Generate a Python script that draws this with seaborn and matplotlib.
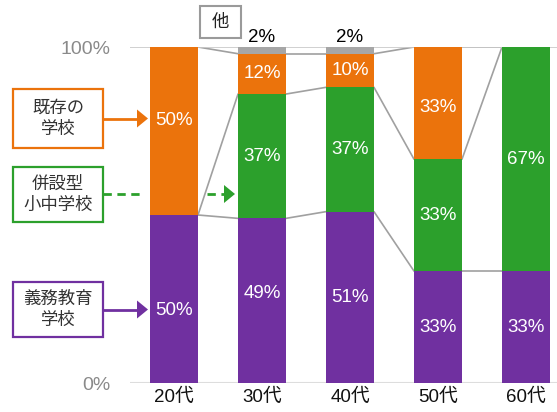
import matplotlib
matplotlib.use("Agg")
import matplotlib.pyplot as plt
import seaborn as sns
import numpy as np
import pandas as pd
from matplotlib.patches import Rectangle, Polygon

sns.set_theme(style="white")
plt.rcParams['font.family'] = ['Liberation Sans', 'Noto Sans CJK JP', 'DejaVu Sans']

# ---- data ----
ages = ["20代", "30代", "40代", "50代", "60代"]
gimu = [50, 49, 51, 33.3, 33.3]        # 義務教育学校
heisetsu = [0, 37, 37, 33.3, 66.7]     # 併設型小中学校
kizon = [50, 12, 10, 33.4, 0]          # 既存の学校
other = [0, 2, 2, 0, 0]                # 他
ytick_labels = ["0%", "100%"]

C_PURPLE = "#7030A0"
C_GREEN = "#2CA02C"
C_ORANGE = "#EB730C"
C_GRAY = "#A6A6A6"

series = [gimu, heisetsu, kizon, other]
colors = [C_PURPLE, C_GREEN, C_ORANGE, C_GRAY]
cum = np.cumsum(np.array(series, dtype=float), axis=0)  # rows: cumulative tops

# label placement tweaks (layout only): (series index, bar index) -> y offset in %
label_shift = {(0, 0): -3.3, (2, 0): 3.0, (0, 1): 2.0, (2, 3): -1.2}

W, H = 557, 412
fig = plt.figure(figsize=(W / 100, H / 100), dpi=100)
ax = fig.add_axes([130 / W, 1 - 383 / H, 1 - 130 / W, (383 - 47) / H])

bw = 0.545
# draw from total down so that each smaller cumulative bar covers the previous
for k in range(len(series) - 1, -1, -1):
    df = pd.DataFrame({"age": ages, "val": cum[k]})
    sns.barplot(data=df, x="age", y="val", order=ages, color=colors[k],
                saturation=1, width=bw, linewidth=0, ax=ax, zorder=2)

ax.set_xlim(-0.5, (557 - 174) / 88)
ax.set_ylim(0, 100)

# connector lines between adjacent bars
for k in range(3):
    for i in range(len(ages) - 1):
        ax.plot([i + bw / 2, i + 1 - bw / 2], [cum[k][i], cum[k][i + 1]],
                color="#A0A0A0", lw=1.2, zorder=1)
ax.axhline(100, color="#C8C8C8", lw=1.2, zorder=1)
ax.axhline(0, color="#DDDDDD", lw=1.5, zorder=1)

# segment labels
for k in range(3):
    bottoms = cum[k] - np.array(series[k])
    for i, v in enumerate(series[k]):
        if v > 0:
            yy = bottoms[i] + v / 2 + label_shift.get((k, i), 0)
            ax.text(i, yy, f"{round(v)}%", ha="center", va="center",
                    color="white", fontsize=13.5, zorder=4)
for i, v in enumerate(other):
    if v > 0:
        ax.text(i, 100.2, f"{round(v)}%", ha="center", va="bottom",
                color="black", fontsize=13.5, zorder=4)

for s in ax.spines.values():
    s.set_visible(False)
ax.set_yticks([0, 100])
ax.set_yticklabels(ytick_labels, color="#8A8A8A", fontsize=14)
ax.tick_params(axis="y", length=0, pad=14)
ax.tick_params(axis="x", length=0, pad=4, labelsize=13.5, labelcolor="#111111")
ax.set_xlabel("")
ax.set_ylabel("")
ax.grid(False)

# ---- overlay annotations (pixel coordinates) ----
ov = fig.add_axes([0, 0, 1, 1], zorder=5)
ov.set_xlim(0, W)
ov.set_ylim(H, 0)
ov.axis("off")
ov.patch.set_alpha(0)

boxes = [
    ("既存の\n学校", C_ORANGE, 89, 148),
    ("併設型\n小中学校", C_GREEN, 167, 222),
    ("義務教育\n学校", C_PURPLE, 282, 337),
]
for txt, col, y0, y1 in boxes:
    ov.add_patch(Rectangle((13, y0), 90, y1 - y0, fill=True, facecolor="white",
                           edgecolor=col, lw=1.6))
    ov.text(58, (y0 + y1) / 2, txt, ha="center", va="center", fontsize=12.5,
            color="#333333", linespacing=1.25, family=["Noto Sans CJK JP"])


def arrow(x0, x1, y, col, dashed=False):
    ls = (0, (3, 2)) if dashed else "-"
    ov.plot([x0, x1 - 10], [y, y], color=col, lw=2, linestyle=ls)
    ov.add_patch(Polygon([[x1 - 11, y - 9], [x1, y], [x1 - 11, y + 9]],
                         closed=True, facecolor=col, edgecolor="none"))


arrow(103, 148, 118.5, C_ORANGE)
arrow(103, 148, 309.5, C_PURPLE)
ov.plot([103, 144], [194, 194], color=C_GREEN, lw=2, linestyle=(0, (3, 2)))
arrow(207, 235, 194, C_GREEN, dashed=True)

# 他 box
ov.add_patch(Rectangle((200, 6), 41, 32, fill=True, facecolor="white",
                       edgecolor="#9A9A9A", lw=1.5))
ov.text(220.5, 22, "他", ha="center", va="center", fontsize=12.5, color="#222222",
        family=["Noto Sans CJK JP"])

fig.savefig("out.png", dpi=100)
